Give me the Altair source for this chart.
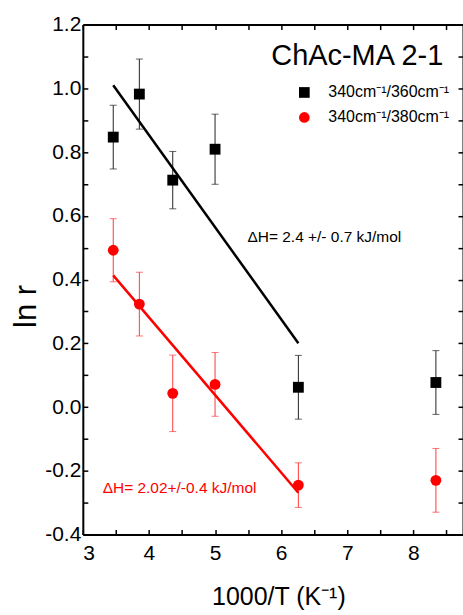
import altair as alt
import pandas as pd

# ---- data ----
inv_T = [3.46, 3.855, 4.36, 5.0, 6.26, 8.34]
black_y = [0.847, 0.982, 0.712, 0.809, 0.062, 0.077]
black_err = [0.10, 0.11, 0.09, 0.11, 0.10, 0.10]
red_y = [0.492, 0.323, 0.043, 0.071, -0.245, -0.23]
red_err = [0.099, 0.10, 0.12, 0.10, 0.07, 0.10]

fit_x = [3.46, 6.26]
black_fit = [1.010, 0.200]
red_fit = [0.413, -0.269]

series_names = ["340cm⁻¹/360cm⁻¹", "340cm⁻¹/380cm⁻¹"]
x_major = [3, 4, 5, 6, 7, 8]
x_minor = [3, 3.5, 4, 4.5, 5, 5.5, 6, 6.5, 7, 7.5, 8, 8.5]
y_major = [-0.4, -0.2, 0.0, 0.2, 0.4, 0.6, 0.8, 1.0, 1.2]
y_minor = [-0.4, -0.3, -0.2, -0.1, 0.0, 0.1, 0.2, 0.3, 0.4, 0.5, 0.6,
           0.7, 0.8, 0.9, 1.0, 1.1, 1.2]

title_text = ["ChAc-MA 2-1"]
title_pos = ([5.85], [1.072])
ann_black = (["ΔH= 2.4 +/- 0.7 kJ/mol"], [5.49], [0.517])
ann_red = (["ΔH= 2.02+/-0.4 kJ/mol"], [3.30], [-0.27])

# ---- tables ----
pts = pd.DataFrame({
    "x": inv_T * 2,
    "y": black_y + red_y,
    "series": [series_names[0]] * 6 + [series_names[1]] * 6,
})
def err_df(ys, es):
    return pd.DataFrame({"x": inv_T,
                         "lo": [a - b for a, b in zip(ys, es)],
                         "hi": [a + b for a, b in zip(ys, es)]})
def cap_df(ys, es):
    d = err_df(ys, es)
    return pd.concat([d[["x"]].assign(c=d["lo"]), d[["x"]].assign(c=d["hi"])])

eb_black, eb_red = err_df(black_y, black_err), err_df(red_y, red_err)
cap_black, cap_red = cap_df(black_y, black_err), cap_df(red_y, red_err)
fit_black = pd.DataFrame({"x": fit_x, "y": black_fit})
fit_red = pd.DataFrame({"x": fit_x, "y": red_fit})

W, H = 381, 511
FONT = "Liberation Sans"
xs = alt.Scale(domain=[3, 8.75], nice=False, zero=False)
ys = alt.Scale(domain=[-0.4, 1.2], nice=False, zero=False)

# main axes (labels + left/bottom frame)
x_main = alt.Axis(orient="bottom", values=x_major, format="d", ticks=False, tickSize=0,
                  domain=True, domainColor="black", domainWidth=2, grid=False,
                  labelFontSize=21, labelPadding=8, labelColor="black", labelFont=FONT,
                  title="1000/T (K⁻¹)", titleFontSize=25, titleFont=FONT,
                  titleFontWeight="normal", titleColor="black",
                  titleX=196, titleY=70, titleBaseline="alphabetic", titleAlign="center")
y_main = alt.Axis(orient="left", values=y_major, ticks=False, tickSize=0,
                  labelExpr="replace(format(datum.value, '.1f'), '\u2212', '-')",
                  domain=True, domainColor="black", domainWidth=2, grid=False,
                  labelFontSize=21, labelPadding=2, labelColor="black", labelFont=FONT,
                  title="ln r", titleFontSize=31, titleFont=FONT, titleFontWeight="normal",
                  titleColor="black", titleAngle=270, titleX=-56, titleY=282,
                  titleAlign="center", titleBaseline="middle")
# inward ticks on bottom/left
x_in_bottom = alt.Axis(orient="top", offset=-H, values=x_minor, labels=False, domain=False,
                       ticks=True, tickSize=5, tickWidth=1.5, tickColor="black",
                       grid=False, title=None)
y_in_left = alt.Axis(orient="right", offset=-W, values=y_minor, labels=False, domain=False,
                     ticks=True, tickSize=5, tickWidth=1.5, tickColor="black",
                     grid=False, title=None)
# top/right frame with inward ticks
x_in_top = alt.Axis(orient="bottom", offset=-H, values=x_minor, labels=False, domain=True,
                    domainColor="black", domainWidth=2,
                    ticks=True, tickSize=5, tickWidth=1.5, tickColor="black",
                    grid=False, title=None)
y_in_right = alt.Axis(orient="left", offset=-W, values=y_minor, labels=False, domain=True,
                      domainColor="black", domainWidth=2,
                      ticks=True, tickSize=5, tickWidth=1.5, tickColor="black",
                      grid=False, title=None)

def X(field="x", axis=None):
    return alt.X(f"{field}:Q", scale=xs, axis=axis)
def Y(field="y", axis=None):
    return alt.Y(f"{field}:Q", scale=ys, axis=axis)

rule_b = alt.Chart(eb_black).mark_rule(color="#222222", strokeWidth=1).encode(
    x=X(axis=x_main), y=Y("lo", axis=y_main), y2="hi:Q")
rule_r = alt.Chart(eb_red).mark_rule(color="#ff3a3a", strokeWidth=1).encode(
    x=X(), y=Y("lo"), y2="hi:Q")
caps_b = alt.Chart(cap_black).mark_tick(orient="horizontal", size=7, thickness=1,
                                        color="#222222").encode(x=X(), y=Y("c"))
caps_r = alt.Chart(cap_red).mark_tick(orient="horizontal", size=7, thickness=1,
                                      color="#ff3a3a").encode(x=X(), y=Y("c"))
line_b = alt.Chart(fit_black).mark_line(color="black", strokeWidth=2.5).encode(
    x=X(axis=x_in_bottom), y=Y(axis=y_in_left))
line_r = alt.Chart(fit_red).mark_line(color="#ff0000", strokeWidth=2.5).encode(
    x=X(axis=x_in_top), y=Y(axis=y_in_right))

leg = alt.Legend(title=None, orient="none", legendX=214, legendY=60, padding=0,
                 labelFontSize=16, labelFont=FONT, labelColor="black", labelOffset=16,
                 symbolSize=115, symbolStrokeWidth=0, rowPadding=9)
points = alt.Chart(pts).mark_point(filled=True, size=118, opacity=1).encode(
    x=X(), y=Y(),
    color=alt.Color("series:N", scale=alt.Scale(domain=series_names, range=["black", "#ff0000"]),
                    legend=leg),
    shape=alt.Shape("series:N", scale=alt.Scale(domain=series_names, range=["square", "circle"]),
                    legend=leg),
)

title_df = pd.DataFrame({"x": title_pos[0], "y": title_pos[1], "t": title_text})
title_mark = alt.Chart(title_df).mark_text(align="left", baseline="alphabetic", fontSize=29,
                                           font=FONT, color="black").encode(
    x=X(), y=Y(), text="t:N")
annb_df = pd.DataFrame({"t": ann_black[0], "x": ann_black[1], "y": ann_black[2]})
annr_df = pd.DataFrame({"t": ann_red[0], "x": ann_red[1], "y": ann_red[2]})
annb = alt.Chart(annb_df).mark_text(align="left", baseline="alphabetic", fontSize=15.5,
                                    font=FONT, color="black").encode(x=X(), y=Y(), text="t:N")
annr = alt.Chart(annr_df).mark_text(align="left", baseline="alphabetic", fontSize=15.5,
                                    font=FONT, color="#ff0000").encode(x=X(), y=Y(), text="t:N")

chart = alt.layer(rule_b, rule_r, caps_b, caps_r, line_b, line_r, points,
                  title_mark, annb, annr).resolve_scale(
    x="independent", y="independent"
).properties(
    width=W, height=H,
    autosize=alt.AutoSizeParams(type="none"),
    padding={"left": 83, "top": 24, "right": 0, "bottom": 80},
    background="white",
).configure_view(stroke=None)

chart.save("out.html", embed_options={"renderer": "svg", "actions": False})
